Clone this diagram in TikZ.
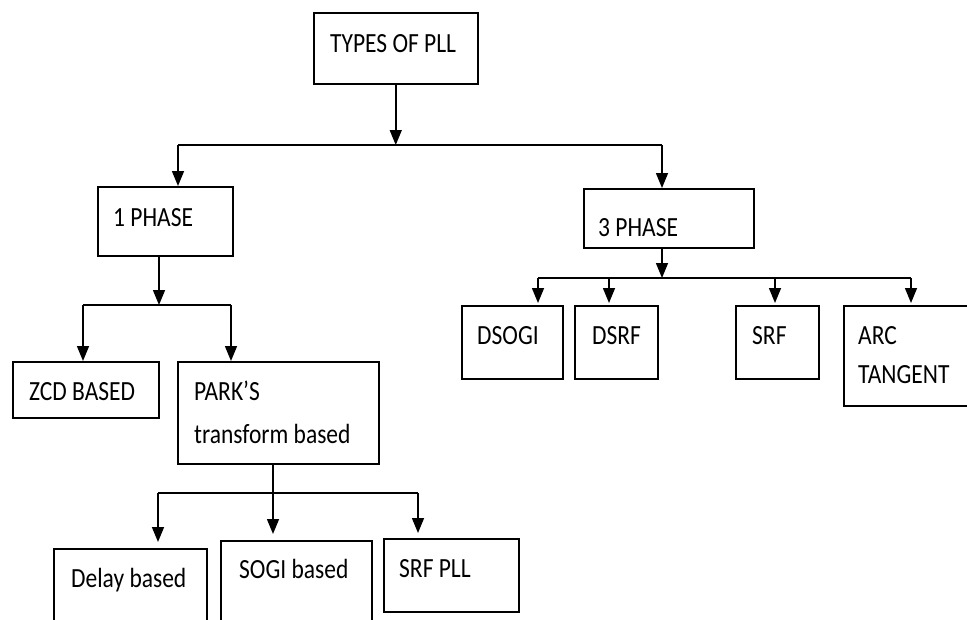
\documentclass[tikz,border=0pt]{standalone}
\usepackage{fontspec}
\setmainfont{Carlito}
\usetikzlibrary{arrows.meta}
\newcommand{\tallt}[1]{\scalebox{1}[1.18]{#1}}
\begin{document}
\begin{tikzpicture}[x=1pt,y={(0pt,-1pt)},
  box/.style={draw=black,line width=1.5pt,rectangle,inner sep=0pt,anchor=north west,fill=white},
  lbl/.style={anchor=base west,inner sep=0pt,font=\fontsize{23.5}{28}\selectfont},
  arr/.style={line width=1.5pt,-{Triangle[length=15pt,width=12pt]}},
  ln/.style={line width=1.5pt}]
\useasboundingbox (0,0) rectangle (967,619);
% boxes
\node[box,minimum width=164pt,minimum height=71pt] (types) at (313,12) {};
\node[box,minimum width=135pt,minimum height=69pt] (phase1) at (97,186) {};
\node[box,minimum width=170pt,minimum height=59pt] (phase3) at (583,188) {};
\node[box,minimum width=146pt,minimum height=56pt] (zcd) at (12,361) {};
\node[box,minimum width=201pt,minimum height=102pt] (park) at (177,361) {};
\node[box,minimum width=153pt,minimum height=90pt] (delay) at (53,548) {};
\node[box,minimum width=151pt,minimum height=98pt] (sogi) at (220,540) {};
\node[box,minimum width=135pt,minimum height=73pt] (srfpll) at (383,538) {};
\node[box,minimum width=101pt,minimum height=73pt] (dsogi) at (461,305) {};
\node[box,minimum width=83pt,minimum height=73pt] (dsrf) at (574,305) {};
\node[box,minimum width=83pt,minimum height=73pt] (srf) at (735,305) {};
\node[box,minimum width=140pt,minimum height=100pt] (arc) at (843,305) {};
% texts
\node[lbl] (t-types) at (330,52) {\tallt{TYPES OF PLL}};
\node[lbl] (t-phase1) at (113,226) {\tallt{1 PHASE}};
\node[lbl] (t-phase3) at (598,236) {\tallt{3 PHASE}};
\node[lbl] (t-zcd) at (29,400) {\tallt{ZCD BASED}};
\node[lbl] (t-park1) at (194,400) {\tallt{PARK’S}};
\node[lbl] (t-park2) at (194,443) {\tallt{transform based}};
\node[lbl] (t-delay) at (71,587) {\tallt{Delay based}};
\node[lbl] (t-sogi) at (239,578) {\tallt{SOGI based}};
\node[lbl] (t-srfpll) at (399,577) {\tallt{SRF PLL}};
\node[lbl] (t-dsogi) at (477,344) {\tallt{DSOGI}};
\node[lbl] (t-dsrf) at (592,344) {\tallt{DSRF}};
\node[lbl] (t-srf) at (752,344) {\tallt{SRF}};
\node[lbl] (t-arc1) at (858,344) {\tallt{ARC}};
\node[lbl] (t-arc2) at (858,383) {\tallt{TANGENT}};
% bus coordinates
\coordinate (b1L) at (178,145);
\coordinate (b1R) at (662,145);
\coordinate (b2M) at (159,305);
\coordinate (b2L) at (83,305);
\coordinate (b2R) at (231,305);
\coordinate (b3M) at (273,493);
\coordinate (b3L) at (158,493);
\coordinate (b3R) at (418,493);
\coordinate (b4M) at (662,278);
\coordinate (b4L) at (538,278);
\coordinate (b4a) at (609,278);
\coordinate (b4b) at (775,278);
\coordinate (b4R) at (911,278);
% connectors
\draw[arr] (types.south) -- (types.south |- b1L);
\draw[ln] (b1L) -- (b1R);
\draw[arr] (b1L) -- (b1L |- phase1.north);
\draw[arr] (b1R) -- (b1R |- phase3.north);
\draw[arr] (b2M |- phase1.south) -- (b2M);
\draw[ln] (b2L) -- (b2R);
\draw[arr] (b2L) -- (b2L |- zcd.north);
\draw[arr] (b2R) -- (b2R |- park.north);
\draw[ln] (b3M |- park.south) -- (b3M);
\draw[ln] (b3L) -- (b3R);
\draw[arr,shorten >=6pt] (b3L) -- (b3L |- delay.north);
\draw[arr,shorten >=6pt] (b3M) -- (b3M |- sogi.north);
\draw[arr,shorten >=5pt] (b3R) -- (b3R |- srfpll.north);
\draw[arr] (b4M |- phase3.south) -- (b4M);
\draw[ln] (b4L) -- (b4R);
\draw[arr,shorten >=2pt] (b4L) -- (b4L |- dsogi.north);
\draw[arr,shorten >=2pt] (b4a) -- (b4a |- dsrf.north);
\draw[arr,shorten >=2pt] (b4b) -- (b4b |- srf.north);
\draw[arr,shorten >=2pt] (b4R) -- (b4R |- arc.north);
\end{tikzpicture}
\end{document}
